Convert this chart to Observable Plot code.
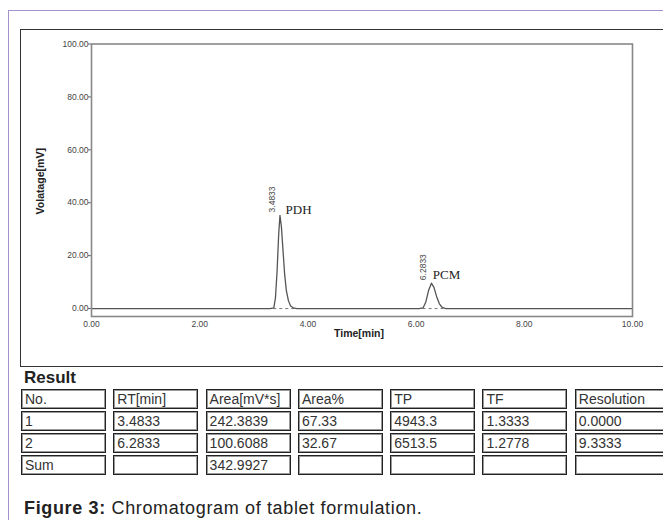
<!DOCTYPE html>
<html><head><meta charset="utf-8">
<script src="https://cdn.jsdelivr.net/npm/d3@7"></script>
<script src="https://cdn.jsdelivr.net/npm/@observablehq/plot@0.6"></script>
<style>
html,body{margin:0;padding:0;background:#fff;}
body{width:663px;height:520px;overflow:hidden;position:relative;font-family:Arial,"Liberation Sans",sans-serif;color:#222;}
#outer{position:absolute;left:8px;top:10px;width:720px;height:600px;border-left:1.5px solid #a591cc;border-top:1.5px solid #a591cc;}
#chart{position:absolute;left:20px;top:29px;}
#box{position:absolute;left:20px;top:29px;width:720px;height:338px;border:1.5px solid #333;box-sizing:border-box;pointer-events:none;}
#result{position:absolute;left:24px;top:368px;font-size:17px;font-weight:bold;color:#222;}
#tbl{position:absolute;left:21px;top:389px;display:grid;grid-template-columns:85px 85px 85px 85px 85px 85px 95px;column-gap:7.3px;row-gap:2px;}
#tbl div{box-sizing:border-box;height:20px;border:1px solid #222;box-shadow:inset 0 0 0 1px #999;padding:0 3px;font-size:14px;line-height:18px;color:#333;white-space:nowrap;overflow:hidden;}
#cap{position:absolute;left:24px;top:498px;font-size:18px;color:#222;white-space:nowrap;letter-spacing:0.65px;}
</style></head>
<body>
<div id="outer"></div>
<div id="chart"></div>
<div id="box"></div>
<div id="result">Result</div>
<div id="tbl"></div>
<div id="cap"><b>Figure 3:</b> Chromatogram of tablet formulation.</div>
<script>
// Signal
const signalTime = [0, 3.30, 3.37, 3.40, 3.43, 3.46, 3.4833, 3.51, 3.54, 3.57, 3.60, 3.64, 3.68, 3.73, 3.80,
                    6.05, 6.13, 6.18, 6.23, 6.2833, 6.33, 6.38, 6.43, 6.48, 6.55, 10];
const signalMV   = [0, 0, 0.3, 4, 14, 28, 35.2, 31, 22, 13, 7, 3, 1, 0.3, 0,
                    0, 0.3, 2.5, 6.8, 9.6, 8, 4.5, 1.8, 0.5, 0, 0];
// Peaks
const peakNames = ["PDH", "PCM"];
const peakRT = [3.4833, 6.2833];
const peakHeight = [35.2, 9.6];
const peakStart = [3.36, 6.12];
const peakEnd = [3.76, 6.55];
// Axis ticks
const xTicks = [0, 2, 4, 6, 8, 10];
const yTicks = [0, 20, 40, 60, 80, 100];
// Result table
const tableHeader = ["No.", "RT[min]", "Area[mV*s]", "Area%", "TP", "TF", "Resolution"];
const tableNo = ["1", "2", "Sum"];
const tableRT = ["3.4833", "6.2833", ""];
const tableArea = ["242.3839", "100.6088", "342.9927"];
const tableAreaPct = ["67.33", "32.67", ""];
const tableTP = ["4943.3", "6513.5", ""];
const tableTF = ["1.3333", "1.2778", ""];
const tableRes = ["0.0000", "9.3333", ""];

const signal = signalTime.map((t, i) => ({t, v: signalMV[i]}));
const peaks = peakNames.map((n, i) => ({name: n, rt: peakRT[i], h: peakHeight[i], s: peakStart[i], e: peakEnd[i]}));
const fmt = d => d.toFixed(2);

const plot = Plot.plot({
  width: 643, height: 337,
  marginLeft: 71, marginRight: 31, marginTop: 14.5, marginBottom: 50,
  style: {background: "transparent", fontFamily: "Arial, 'Liberation Sans', sans-serif", color: "#333"},
  x: {domain: [0, 10]},
  y: {domain: [-3, 100]},
  marks: [
    Plot.axisY(yTicks, {tickSize: 3, tickPadding: 0, fontSize: 8.5, tickFormat: fmt, label: null, stroke: "#666", fill: "#444"}),
    Plot.axisX(xTicks, {tickSize: 0, tickPadding: 4, fontSize: 8.5, tickFormat: fmt, label: null, fill: "#444"}),
    Plot.link(peaks, {x1: "s", x2: "e", y1: () => 0, y2: () => 0, stroke: "#777", strokeWidth: 1, strokeDasharray: "3,3"}),
    Plot.line(signal, {x: "t", y: "v", stroke: "#555", strokeWidth: 1.3}),
    Plot.frame({stroke: "#888", strokeWidth: 1.6}),
    Plot.text(peaks, {x: "rt", y: "h", text: d => d.rt.toFixed(4), rotate: -90, textAnchor: "start", dx: -8, dy: -3, fontSize: 8.5, fill: "#444"}),
    Plot.text(peaks.filter(d => d.name === "PDH"), {x: "rt", y: "h", text: "name", textAnchor: "start", dx: 5.6, dy: -6, fontSize: 13, fontFamily: "'Liberation Serif', 'DejaVu Serif', serif", fill: "#222"}),
    Plot.text(peaks.filter(d => d.name === "PCM"), {x: "rt", y: "h", text: "name", textAnchor: "start", dx: 1.3, dy: -8.7, fontSize: 13, fontFamily: "'Liberation Serif', 'DejaVu Serif', serif", fill: "#222"}),
    Plot.text(["Volatage[mV]"], {frameAnchor: "left", rotate: -90, textAnchor: "middle", lineAnchor: "middle", dx: -51, dy: 1, fontSize: 10.5, fontWeight: "bold", fill: "#222"}),
    Plot.text(["Time[min]"], {frameAnchor: "bottom", textAnchor: "middle", lineAnchor: "middle", dx: -3, dy: 17, fontSize: 10.5, fontWeight: "bold", fill: "#222"})
  ]
});
document.getElementById("chart").appendChild(plot);

const tbl = document.getElementById("tbl");
const rows = [tableHeader].concat(tableNo.map((n, i) => [n, tableRT[i], tableArea[i], tableAreaPct[i], tableTP[i], tableTF[i], tableRes[i]]));
rows.forEach(r => r.forEach(c => {
  const cell = document.createElement("div");
  cell.textContent = c;
  tbl.appendChild(cell);
}));
</script>
</body></html>
